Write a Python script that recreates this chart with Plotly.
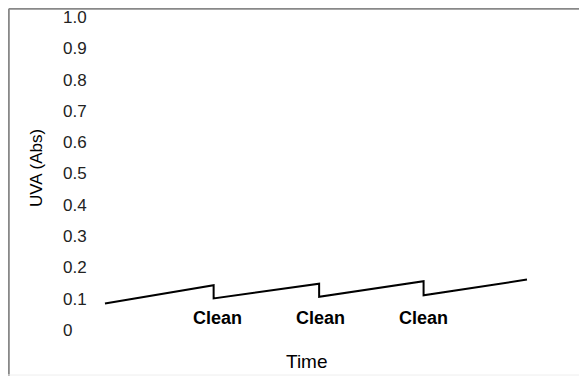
import plotly.graph_objects as go

# Data
time_points = [0.0, 1.03, 1.03, 2.03, 2.03, 3.02, 3.02, 4.0]
uva_values = [0.085, 0.143, 0.101, 0.148, 0.106, 0.156, 0.111, 0.161]
clean_times = [1.07, 2.04, 3.02]
clean_labels = ["Clean", "Clean", "Clean"]
y_tick_vals = [0, 0.1, 0.2, 0.3, 0.4, 0.5, 0.6, 0.7, 0.8, 0.9, 1.0]
y_tick_text = ["0", "0.1", "0.2", "0.3", "0.4", "0.5", "0.6", "0.7", "0.8", "0.9", "1.0"]

FONT = "Liberation Sans, Arial, sans-serif"
W, H = 579, 368  # page body adds an 8px offset

fig = go.Figure()
fig.add_trace(go.Scatter(
    x=time_points, y=uva_values, mode="lines",
    line=dict(color="black", width=2), showlegend=False, hoverinfo="skip",
))

for t, lab in zip(clean_times, clean_labels):
    fig.add_annotation(x=t, y=0.038, text="<b>%s</b>" % lab, showarrow=False,
                       font=dict(family=FONT, size=18, color="black"),
                       xanchor="center", yanchor="middle")

fig.add_annotation(x=1.915, y=-0.102, text="Time", showarrow=False,
                   font=dict(family=FONT, size=19, color="black"),
                   xanchor="center", yanchor="middle")

fig.add_annotation(xref="paper", yref="paper", x=29 / W, y=1 - 160 / H, text="UVA (Abs)",
                   showarrow=False, textangle=-90,
                   font=dict(family=FONT, size=17, color="black"),
                   xanchor="center", yanchor="middle")

# frame
fig.add_shape(type="line", xref="paper", yref="paper", x0=0.8 / W, x1=1,
              y0=1 - 0.8 / H, y1=1 - 0.8 / H, line=dict(color="#888888", width=2))
fig.add_shape(type="line", xref="paper", yref="paper", x0=0.8 / W, x1=0.8 / W,
              y0=0, y1=1 - 0.8 / H, line=dict(color="#888888", width=2))
fig.add_shape(type="line", xref="paper", yref="paper", x0=0, x1=1,
              y0=1.0 / H, y1=1.0 / H, line=dict(color="#eeeeee", width=1))

fig.update_layout(
    width=W, height=H,
    margin=dict(l=0, r=0, t=0, b=0),
    paper_bgcolor="white", plot_bgcolor="white",
    xaxis=dict(range=[-0.919, 4.569], domain=[0, 1], showgrid=False, zeroline=False,
               showline=False, showticklabels=False, ticks=""),
    yaxis=dict(range=[-0.147, 1.0288], showgrid=False, zeroline=False, showline=False,
               side="right", anchor="free", position=54 / W,
               tickvals=y_tick_vals, ticktext=y_tick_text, ticks="",
               ticklabeloverflow="allow",
               tickfont=dict(family=FONT, size=17, color="#222222")),
    font=dict(family=FONT),
)

fig.write_html("out.html")
